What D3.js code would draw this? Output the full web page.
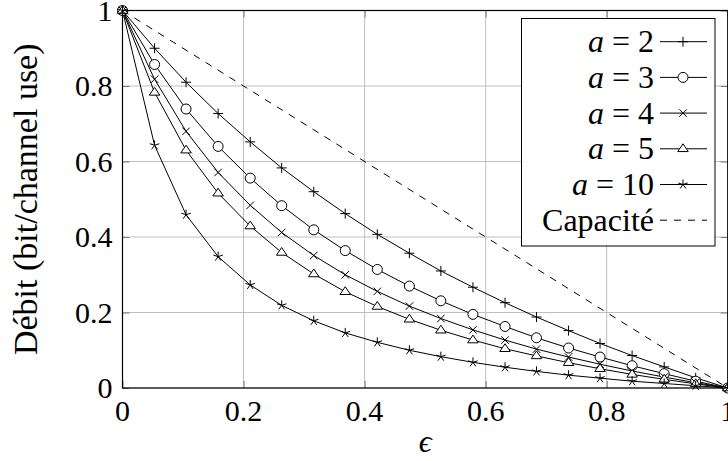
<!DOCTYPE html>
<html><head><meta charset="utf-8">
<script src="https://cdn.jsdelivr.net/npm/d3@7"></script>
</head>
<body style="margin:0;background:#fff"><svg id="c" width="728" height="461"></svg>
<script>
const eps = [0,0.053,0.105,0.158,0.211,0.263,0.316,0.368,0.421,0.474,0.526,0.579,0.632,0.684,0.737,0.789,0.842,0.895,0.947,1];
const rateA2  = [1,0.900,0.810,0.727,0.652,0.583,0.520,0.462,0.407,0.357,0.310,0.267,0.226,0.188,0.152,0.118,0.086,0.056,0.027,0];
const rateA3  = [1,0.857,0.739,0.640,0.556,0.483,0.419,0.364,0.314,0.270,0.231,0.195,0.163,0.133,0.106,0.082,0.059,0.038,0.018,0];
const rateA4  = [1,0.818,0.680,0.571,0.484,0.412,0.351,0.300,0.256,0.217,0.184,0.154,0.127,0.103,0.082,0.063,0.045,0.029,0.014,0];
const rateA5  = [1,0.783,0.630,0.516,0.429,0.359,0.302,0.255,0.216,0.182,0.153,0.127,0.104,0.085,0.067,0.051,0.036,0.023,0.011,0];
const rateA10 = [1,0.643,0.459,0.348,0.273,0.219,0.178,0.146,0.121,0.100,0.083,0.068,0.055,0.044,0.034,0.026,0.018,0.012,0.006,0];
const capX = [0,1];
const capY = [1,0];
const seriesNames = ["a = 2","a = 3","a = 4","a = 5","a = 10"];
const seriesMarks = ["plus","circle","cross","triangle","star"];
const xTicks = [0,0.2,0.4,0.6,0.8,1];
const yTicks = [0,0.2,0.4,0.6,0.8,1];
const xLabel = "ϵ";
const yLabel = "Débit (bit/channel use)";
const capLabel = "Capacité";

const series = [rateA2,rateA3,rateA4,rateA5,rateA10].map((v,i)=>({name:seriesNames[i],mark:seriesMarks[i],pts:v.map((y,j)=>[eps[j],y])}));

const FF = "Liberation Serif";
const svg = d3.select("#c");
const L=122.5, R=727.75, T=10.5, B=388;
const x = d3.scaleLinear().domain([0,1]).range([L,R]);
const y = d3.scaleLinear().domain([0,1]).range([B,T]);
const FS = 30;
const txt = (sel,fs)=>sel.attr("font-family",FF).attr("font-size",fs||FS).attr("fill","#000");

// grid
const g = svg.append("g");
g.selectAll(".gx").data(xTicks).join("line").attr("x1",d=>x(d)).attr("x2",d=>x(d)).attr("y1",T).attr("y2",B).attr("stroke","#bfbfbf").attr("stroke-width",1);
g.selectAll(".gy").data(yTicks).join("line").attr("y1",d=>y(d)).attr("y2",d=>y(d)).attr("x1",L).attr("x2",R).attr("stroke","#bfbfbf").attr("stroke-width",1);

// axes with inward ticks
const tk = 7;
const ax = svg.append("g");
const clean = s=>{s.select(".domain").remove(); s.selectAll("line").attr("stroke","#777"); s.selectAll("text").remove();};
ax.append("g").attr("transform",`translate(0,${B})`).call(d3.axisBottom(x).tickValues(xTicks).tickSizeInner(-tk).tickSizeOuter(0)).call(clean);
ax.append("g").attr("transform",`translate(0,${T})`).call(d3.axisTop(x).tickValues(xTicks).tickSizeInner(-tk).tickSizeOuter(0)).call(clean);
ax.append("g").attr("transform",`translate(${L},0)`).call(d3.axisLeft(y).tickValues(yTicks).tickSizeInner(-tk).tickSizeOuter(0)).call(clean);
ax.append("g").attr("transform",`translate(${R},0)`).call(d3.axisRight(y).tickValues(yTicks).tickSizeInner(-tk).tickSizeOuter(0)).call(clean);

// tick labels
const fmt = d=> d===0?"0":(d===1?"1":d3.format(".1f")(d));
svg.append("g").selectAll("text").data(xTicks).join("text")
  .attr("x",d=>x(d)).attr("y",B+33).attr("text-anchor","middle").call(txt).text(fmt);
svg.append("g").selectAll("text").data(yTicks).join("text")
  .attr("x",L-10).attr("y",d=>y(d)+10).attr("text-anchor","end").call(txt).text(fmt);

// axis labels
svg.append("text").attr("x",(L+R)/2).attr("y",452).attr("text-anchor","middle").call(txt,32).attr("font-style","italic").text(xLabel);
svg.append("text").attr("transform",`translate(37,${(T+B)/2}) rotate(-90)`).attr("text-anchor","middle").call(txt,34).text(yLabel);

// capacity dashed
const line = d3.line().x(d=>x(d[0])).y(d=>y(d[1]));
svg.append("path").datum(capX.map((v,i)=>[v,capY[i]])).attr("d",line).attr("fill","none").attr("stroke","#000").attr("stroke-width",1).attr("stroke-dasharray","7,7");

// marker drawer
function drawMark(sel, type, cx, cy){
  const r=5;
  const st = {stroke:"#000","stroke-width":1,fill:"none"};
  const add=(tag,attrs)=>{const e=sel.append(tag); Object.entries({...st,...attrs}).forEach(([k,v])=>e.attr(k,v)); return e;};
  if(type==="plus"){
    add("path",{d:`M${cx-r},${cy}H${cx+r}M${cx},${cy-r}V${cy+r}`});
  } else if(type==="circle"){
    add("circle",{cx:cx,cy:cy,r:r, fill:"#fff"});
  } else if(type==="cross"){
    const q=r*0.75;
    add("path",{d:`M${cx-q},${cy-q}L${cx+q},${cy+q}M${cx-q},${cy+q}L${cx+q},${cy-q}`});
  } else if(type==="triangle"){
    const h=r;
    add("path",{d:`M${cx},${cy-h}L${cx+h*1.05},${cy+h*0.55}L${cx-h*1.05},${cy+h*0.55}Z`, fill:"#fff"});
  } else if(type==="star"){
    let d="";
    for(let k=0;k<5;k++){const a=-Math.PI/2+k*2*Math.PI/5; d+=`M${cx},${cy}L${cx+r*Math.cos(a)},${cy+r*Math.sin(a)}`;}
    add("path",{d:d});
  }
}

// series
series.forEach(s=>{
  svg.append("path").datum(s.pts).attr("d",line).attr("fill","none").attr("stroke","#000").attr("stroke-width",1);
});
series.forEach(s=>{
  const mg = svg.append("g");
  s.pts.forEach(p=>drawMark(mg, s.mark, x(p[0]), y(p[1])));
});

// axis box
svg.append("rect").attr("x",L).attr("y",T).attr("width",R-L).attr("height",B-T).attr("fill","none").attr("stroke","#000").attr("stroke-width",1.2);

// legend
const lg = svg.append("g");
const lx0=521.5, ly0=18.5, lw=193.5, lh=227.5;
lg.append("rect").attr("x",lx0).attr("y",ly0).attr("width",lw).attr("height",lh).attr("fill","#fff").attr("stroke","#000").attr("stroke-width",1);
const rowY = d=>41.7+d*35.7;
const entries = series.map(s=>({name:s.name,mark:s.mark})).concat([{name:capLabel,mark:"dash"}]);
entries.forEach((e,i)=>{
  const cy=rowY(i);
  const t = lg.append("text").attr("x",654).attr("y",cy+10.5).attr("text-anchor","end").call(txt,32);
  if(e.mark==="dash"){ t.text(e.name);
    lg.append("line").attr("x1",660).attr("x2",707).attr("y1",cy).attr("y2",cy).attr("stroke","#000").attr("stroke-width",1).attr("stroke-dasharray","7,7");
  } else {
    const parts = e.name.split(" = ");
    t.append("tspan").attr("font-style","italic").text(parts[0]);
    t.append("tspan").text(" = "+parts[1]);
    lg.append("line").attr("x1",660).attr("x2",707).attr("y1",cy).attr("y2",cy).attr("stroke","#000").attr("stroke-width",1);
    drawMark(lg, e.mark, 683, cy);
  }
});
</script></body></html>
